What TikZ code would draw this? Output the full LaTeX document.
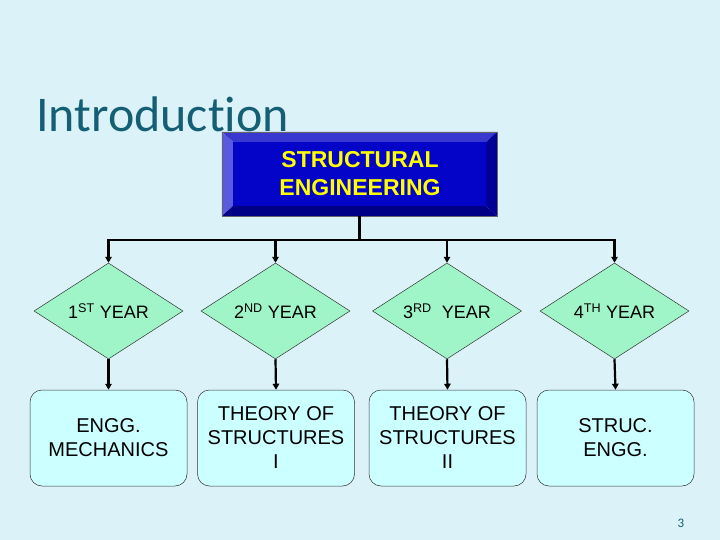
\documentclass[tikz,border=0pt]{standalone}
\usepackage{fontspec}
\setmainfont{Liberation Sans}
\newfontfamily\carlito[Ligatures=NoCommon]{Carlito}
\usetikzlibrary{shapes.geometric,arrows.meta,calc}
\definecolor{bgc}{RGB}{219,243,248}
\definecolor{titlec}{RGB}{20,95,115}
\definecolor{facec}{RGB}{4,4,200}
\definecolor{bevtop}{RGB}{56,56,208}
\definecolor{bevleft}{RGB}{90,90,222}
\definecolor{bevright}{RGB}{0,0,150}
\definecolor{bevbot}{RGB}{0,0,135}
\definecolor{diamc}{RGB}{160,245,200}
\definecolor{boxc}{RGB}{204,255,255}
\definecolor{yel}{RGB}{255,255,0}
\begin{document}
\begin{tikzpicture}[x=1pt,y=-1pt,
  conn/.style={line width=2.2pt,black},
  arr/.style={conn,-{Triangle[length=6pt,width=6.5pt]}},
  yeardiam/.style={diamond,draw=black!80,line width=0.5pt,fill=diamc,minimum width=149pt,minimum height=96pt,inner sep=0pt,aspect=1.55,font=\fontsize{18}{21}\selectfont},
  subjbox/.style={rectangle,rounded corners=12pt,draw=black!80,line width=0.5pt,fill=boxc,minimum width=157pt,minimum height=96pt,inner sep=0pt,align=center,font=\fontsize{20}{24}\selectfont}]
\fill[bgc] (0,0) rectangle (720,540);
\useasboundingbox (0,0) rectangle (720,540);
% title
\node[anchor=base west,inner sep=0pt,text=titlec,font=\carlito\fontsize{50}{52}\selectfont] (title) at (36,132) {Introduction};
% top bevelled box
\node[rectangle,minimum width=275pt,minimum height=84pt,inner sep=0pt] (top) at (359.5,174) {};
\coordinate (onw) at (top.north west);
\coordinate (one) at (top.north east);
\coordinate (osw) at (top.south west);
\coordinate (ose) at (top.south east);
\coordinate (inw) at ($(onw)+(11,10)$);
\coordinate (ine) at ($(one)+(-11,10)$);
\coordinate (isw) at ($(osw)+(11,-10)$);
\coordinate (ise) at ($(ose)+(-11,-10)$);
\fill[bevtop] (onw) -- (one) -- (ine) -- (inw) -- cycle;
\fill[bevleft] (onw) -- (inw) -- (isw) -- (osw) -- cycle;
\fill[bevright] (one) -- (ose) -- (ise) -- (ine) -- cycle;
\fill[bevbot] (osw) -- (isw) -- (ise) -- (ose) -- cycle;
\fill[facec] (inw) rectangle (ise);
\draw[black!60,line width=0.4pt] (onw) rectangle (ose);
\node[text=yel,align=center,font=\bfseries\fontsize{23}{28}\selectfont] (toptext) at (360,174) {STRUCTURAL\\ENGINEERING};
% year diamonds
\node[yeardiam] (d1) at (108.5,311) {1\textsuperscript{ST} YEAR};
\node[yeardiam] (d2) at (275.5,311) {2\textsuperscript{ND} YEAR};
\node[yeardiam] (d3) at (447,311) {3\textsuperscript{RD}\ \ YEAR};
\node[yeardiam] (d4) at (614.5,311) {4\textsuperscript{TH} YEAR};
% subject boxes
\node[subjbox] (b1) at (108.5,438) {ENGG.\\MECHANICS};
\node[subjbox] (b2) at (276,438) {THEORY OF\\STRUCTURES\\I};
\node[subjbox] (b3) at (447.5,438) {THEORY OF\\STRUCTURES\\II};
\node[subjbox] (b4) at (615.5,438) {STRUC.\\ENGG.};
% connectors
\coordinate (bus) at (360,240);
\draw[conn] (top.south) -- (top.south |- bus);
\draw[conn,line cap=rect] (d1.north |- bus) -- (d4.north |- bus);
\draw[arr] (d1.north |- bus) -- (d1.north);
\draw[arr] (d2.north |- bus) -- (d2.north);
\draw[arr] (d3.north |- bus) -- (d3.north);
\draw[arr] (d4.north |- bus) -- (d4.north);
\draw[arr] (d1.south) -- (b1.north);
\draw[arr] (d2.south) -- (b2.north);
\draw[arr] (d3.south) -- (b3.north);
\draw[arr] (d4.south) -- (b4.north);
% page number
\node[text=titlec,font=\carlito\fontsize{13}{15}\selectfont,inner sep=0pt] (pnum) at (681,523) {3};
\end{tikzpicture}
\end{document}
